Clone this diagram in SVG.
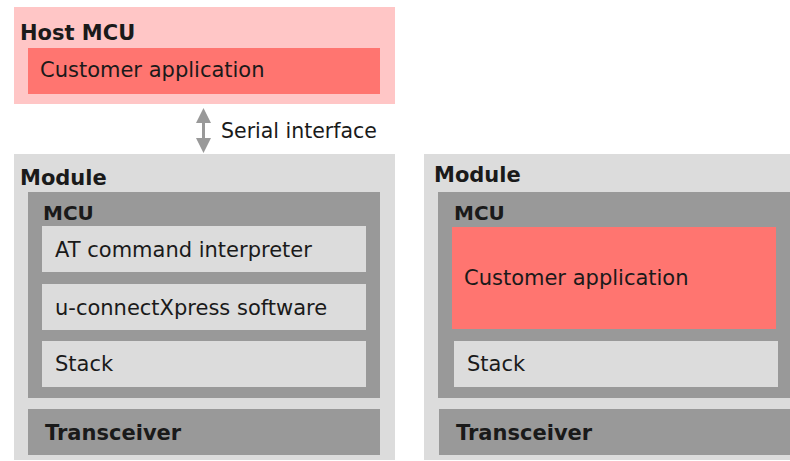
<svg xmlns="http://www.w3.org/2000/svg" width="790" height="461" viewBox="0 0 790 461">
<style>
.t{font-family:"DejaVu Sans","Liberation Sans",sans-serif;fill:#1a1a1a;font-size:21px}
.b{font-weight:bold}
.pink{fill:#ffc6c6}
.red{fill:#ff7570}
.lg{fill:#dcdcdc}
.dg{fill:#999999}
</style>
<rect width="790" height="461" fill="#ffffff"/>
<g id="host-mcu">
<rect class="pink" x="14" y="7" width="381" height="97"/>
<text class="t b" x="20" y="40">Host MCU</text>
</g>
<g id="host-customer-app">
<rect class="red" x="28" y="48" width="352" height="46"/>
<text class="t" x="40" y="77">Customer application</text>
</g>
<g id="connectors">
<path fill="#999999" d="M203.5,108 L211,123 L205,123 L205,138 L211,138 L203.5,153 L196,138 L202,138 L202,123 L196,123 Z"/>
<text class="t" style="font-size:20.5px" x="221" y="138">Serial interface</text>
</g>
<g id="module-left">
<rect class="lg" x="14" y="154" width="381" height="306"/>
<text class="t b" x="20" y="185">Module</text>
</g>
<g id="mcu-left">
<rect class="dg" x="28" y="192" width="352" height="206"/>
<text class="t b" style="font-size:20px" x="43" y="220">MCU</text>
</g>
<g id="at-interpreter">
<rect class="lg" x="42" y="226" width="324" height="46"/>
<text class="t" x="55" y="257">AT command interpreter</text>
</g>
<g id="uconnect">
<rect class="lg" x="42" y="284" width="324" height="46"/>
<text class="t" x="55" y="315">u-connectXpress software</text>
</g>
<g id="stack-left">
<rect class="lg" x="42" y="341" width="324" height="46"/>
<text class="t" x="55" y="371">Stack</text>
</g>
<g id="transceiver-left">
<rect class="dg" x="28" y="409" width="352" height="46"/>
<text class="t b" x="45" y="440">Transceiver</text>
</g>
<g id="module-right">
<rect class="lg" x="424" y="154" width="366" height="306"/>
<text class="t b" x="434" y="182">Module</text>
</g>
<g id="mcu-right">
<rect class="dg" x="438" y="192" width="352" height="206"/>
<text class="t b" style="font-size:20px" x="454" y="220">MCU</text>
</g>
<g id="customer-app-right">
<rect class="red" x="452" y="227" width="324" height="102"/>
<text class="t" x="464" y="285">Customer application</text>
</g>
<g id="stack-right">
<rect class="lg" x="454" y="341" width="324" height="46"/>
<text class="t" x="467" y="371">Stack</text>
</g>
<g id="transceiver-right">
<rect class="dg" x="439" y="409" width="351" height="46"/>
<text class="t b" x="456" y="440">Transceiver</text>
</g>
</svg>
